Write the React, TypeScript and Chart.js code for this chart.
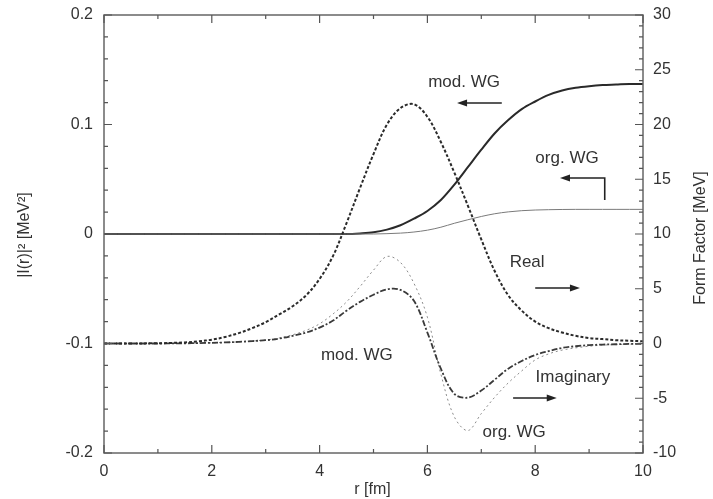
import { useEffect, useRef } from 'react';
import { Chart, registerables } from 'chart.js';

Chart.register(...registerables);

// r [fm]
const rValues = [
  0, 0.25, 0.5, 0.75, 1, 1.25, 1.5, 1.75, 2, 2.25, 2.5, 2.75, 3, 3.25, 3.5, 3.75, 4, 4.25, 4.5, 4.75,
  5, 5.25, 5.5, 5.75, 6, 6.25, 6.5, 6.75, 7, 7.25, 7.5, 7.75, 8, 8.25, 8.5, 8.75, 9, 9.25, 9.5, 9.75, 10,
];

// |I(r)|^2 [MeV^2] (left axis)
const modWG = [
  0, 0, 0, 0, 0, 0, 0, 0, 0, 0, 0, 0, 0, 0, 0, 0, 0, 0, 0, 0.0005,
  0.0015, 0.004, 0.008, 0.014, 0.021, 0.031, 0.045, 0.061, 0.077, 0.092, 0.104, 0.114, 0.121, 0.127, 0.131, 0.1335, 0.135, 0.136, 0.1365, 0.137, 0.137,
];
const orgWG = [
  0, 0, 0, 0, 0, 0, 0, 0, 0, 0, 0, 0, 0, 0, 0, 0, 0, 0, 0, 0,
  0, 0.0003, 0.0008, 0.0018, 0.0035, 0.0062, 0.0098, 0.013, 0.016, 0.0185, 0.0202, 0.0213, 0.0219, 0.0222, 0.0224, 0.0225, 0.0225, 0.0225, 0.0225, 0.0225, 0.0225,
];

// Form factor [MeV] (right axis)
const realFF = [
  0, 0, 0, 0.01, 0.02, 0.05, 0.1, 0.2, 0.35, 0.6, 0.95, 1.4, 1.95, 2.65, 3.4, 4.4, 5.9, 8.0, 11.0, 14.2,
  17.3, 20.0, 21.5, 21.85, 20.7, 18.4, 15.6, 12.6, 9.5, 6.6, 4.4, 3.0, 2.0, 1.4, 1.0, 0.7, 0.5, 0.4, 0.3, 0.25, 0.2,
];
const imagMod = [
  0, 0, 0, 0, 0, 0.01, 0.02, 0.04, 0.06, 0.1, 0.15, 0.22, 0.3, 0.45, 0.7, 1.0, 1.45, 2.1, 3.0, 3.8,
  4.45, 4.95, 4.9, 3.9, 1.0, -2.3, -4.6, -4.95, -4.3, -3.3, -2.3, -1.6, -1.05, -0.7, -0.4, -0.25, -0.15, -0.1, -0.07, -0.04, -0.02,
];
const imagOrg = [
  0, 0, 0, 0, 0, 0.01, 0.02, 0.04, 0.06, 0.1, 0.15, 0.22, 0.32, 0.5, 0.8, 1.2, 1.8, 2.7, 3.8, 5.2,
  6.7, 7.95, 7.4, 5.5, 2.4, -2.8, -6.7, -7.95, -6.4, -4.9, -3.6, -2.5, -1.5, -0.95, -0.6, -0.4, -0.25, -0.15, -0.1, -0.06, -0.03,
];

const xTicks = [0, 2, 4, 6, 8, 10];
const leftTicks = [-0.2, -0.1, 0, 0.1, 0.2];
const rightTicks = [-10, -5, 0, 5, 10, 15, 20, 25, 30];

const FONT = "'Liberation Sans', Arial, Helvetica, sans-serif";
const TEXT = '#333';

// annotations: text in data coords (r, left-axis value)
const labels = [
  { text: 'mod. WG', r: 6.68, v: 0.1388 },
  { text: 'org. WG', r: 8.59, v: 0.0694 },
  { text: 'Real', r: 7.85, v: -0.0256 },
  { text: 'Imaginary', r: 8.7, v: -0.1306 },
  { text: 'mod. WG', r: 4.69, v: -0.1105 },
  { text: 'org. WG', r: 7.61, v: -0.1808 },
];
// arrows: polyline, head at last point
const arrows = [
  [{ r: 7.38, v: 0.1196 }, { r: 6.55, v: 0.1196 }],
  [{ r: 9.29, v: 0.0311 }, { r: 9.29, v: 0.0511 }, { r: 8.46, v: 0.0511 }],
  [{ r: 8.0, v: -0.0493 }, { r: 8.83, v: -0.0493 }],
  [{ r: 7.59, v: -0.1498 }, { r: 8.4, v: -0.1498 }],
];

const pts = (arr: number[]) => rValues.map((r, i) => ({ x: r, y: arr[i] }));

const zeroPad = (s: any) => { s.paddingTop = 0; s.paddingBottom = 0; s.paddingLeft = 0; s.paddingRight = 0; };

const decorPlugin = {
  id: 'decor',
  afterDatasetsDraw(chart: any) {
    const { ctx, chartArea: a, scales } = chart;
    const xs = scales.x, yl = scales.y, yr = scales.y1;
    ctx.save();
    ctx.strokeStyle = '#666';
    ctx.lineWidth = 1.5;
    ctx.strokeRect(a.left, a.top, a.right - a.left, a.bottom - a.top);
    ctx.lineWidth = 1.2;
    ctx.strokeStyle = '#555';
    ctx.beginPath();
    for (let k = 0; k <= 10; k++) {
      const px = xs.getPixelForValue(k);
      const len = k % 2 === 0 ? 8 : 4;
      ctx.moveTo(px, a.bottom); ctx.lineTo(px, a.bottom - len);
      ctx.moveTo(px, a.top); ctx.lineTo(px, a.top + len);
    }
    for (let k = -10; k <= 10; k++) {
      const py = yl.getPixelForValue(k * 0.02);
      const len = k % 5 === 0 ? 8 : 4;
      ctx.moveTo(a.left, py); ctx.lineTo(a.left + len, py);
    }
    for (let k = -10; k <= 30; k++) {
      const py = yr.getPixelForValue(k);
      const len = k % 5 === 0 ? 8 : 4;
      ctx.moveTo(a.right, py); ctx.lineTo(a.right - len, py);
    }
    ctx.stroke();

    // titles
    ctx.fillStyle = TEXT;
    ctx.font = `16px ${FONT}`;
    ctx.textAlign = 'center';
    ctx.textBaseline = 'middle';
    ctx.fillText('r [fm]', (a.left + a.right) / 2 - 1, 490);
    ctx.save();
    ctx.translate(25, (a.top + a.bottom) / 2 + 1);
    ctx.rotate(-Math.PI / 2);
    ctx.fillText('|I(r)|\u00B2 [MeV\u00B2]', 0, 0);
    ctx.restore();
    ctx.save();
    ctx.translate(701, (a.top + a.bottom) / 2 + 4);
    ctx.rotate(-Math.PI / 2);
    ctx.fillText('Form Factor [MeV]', 0, 0);
    ctx.restore();

    // annotations
    ctx.font = `17px ${FONT}`;
    for (const l of labels) {
      ctx.fillText(l.text, xs.getPixelForValue(l.r), yl.getPixelForValue(l.v));
    }
    ctx.strokeStyle = '#222';
    ctx.fillStyle = '#222';
    ctx.lineWidth = 1.6;
    for (const ar of arrows) {
      const p = ar.map((q) => ({ x: xs.getPixelForValue(q.r), y: yl.getPixelForValue(q.v) }));
      const last = p[p.length - 1];
      const prev = p[p.length - 2];
      const ang = Math.atan2(last.y - prev.y, last.x - prev.x);
      const hl = 10, hw = 3.5;
      ctx.beginPath();
      ctx.moveTo(p[0].x, p[0].y);
      for (let i = 1; i < p.length - 1; i++) ctx.lineTo(p[i].x, p[i].y);
      ctx.lineTo(last.x - Math.cos(ang) * hl * 0.8, last.y - Math.sin(ang) * hl * 0.8);
      ctx.stroke();
      ctx.beginPath();
      ctx.moveTo(last.x, last.y);
      ctx.lineTo(last.x - Math.cos(ang) * hl - Math.sin(ang) * hw, last.y - Math.sin(ang) * hl + Math.cos(ang) * hw);
      ctx.lineTo(last.x - Math.cos(ang) * hl + Math.sin(ang) * hw, last.y - Math.sin(ang) * hl - Math.cos(ang) * hw);
      ctx.closePath();
      ctx.fill();
    }
    ctx.restore();
  },
};

export default function App() {
  const ref = useRef<HTMLCanvasElement | null>(null);
  useEffect(() => {
    if (!ref.current) return;
    const tickFont = { family: FONT, size: 16 };
    const chart = new Chart(ref.current, {
      type: 'line',
      data: {
        datasets: [
          { label: 'Real', data: pts(realFF), yAxisID: 'y1', borderColor: '#2a2a2a', borderWidth: 2, borderDash: [3, 2], tension: 0.35 },
          { label: 'Imag mod. WG', data: pts(imagMod), yAxisID: 'y1', borderColor: '#3a3a3a', borderWidth: 1.8, borderDash: [6, 2, 2, 2], tension: 0.35 },
          { label: 'Imag org. WG', data: pts(imagOrg), yAxisID: 'y1', borderColor: '#8a8a8a', borderWidth: 1, borderDash: [2, 3], tension: 0.35 },
          { label: 'org. WG', data: pts(orgWG), yAxisID: 'y', borderColor: '#7a7a7a', borderWidth: 1, cubicInterpolationMode: 'monotone' },
          { label: 'mod. WG', data: pts(modWG), yAxisID: 'y', borderColor: '#2a2a2a', borderWidth: 2, cubicInterpolationMode: 'monotone' },
        ] as any,
      },
      options: {
        animation: false,
        responsive: false,
        maintainAspectRatio: false,
        layout: { padding: { top: 15, left: 0, right: 0, bottom: 0 } },
        elements: { point: { radius: 0 } },
        plugins: { legend: { display: false }, tooltip: { enabled: false } },
        scales: {
          x: {
            type: 'linear',
            position: 'bottom',
            min: 0,
            max: 10,
            afterBuildTicks: (s: any) => { s.ticks = xTicks.map((v) => ({ value: v })); },
            ticks: { font: tickFont, color: TEXT, padding: 9, maxRotation: 0 },
            grid: { display: false, drawTicks: false },
            border: { display: false },
            afterFit: (s: any) => { s.height = 46; zeroPad(s); },
          },
          y: {
            type: 'linear',
            position: 'left',
            min: -0.2,
            max: 0.2,
            afterBuildTicks: (s: any) => { s.ticks = leftTicks.map((v) => ({ value: v })); },
            ticks: {
              font: tickFont,
              color: TEXT,
              padding: 11,
              callback: (v: any) => { const n = Math.round(Number(v) * 10) / 10; return n === 0 ? '0' : String(n); },
            },
            grid: { display: false, drawTicks: false },
            border: { display: false },
            afterFit: (s: any) => { s.width = 104; zeroPad(s); },
          },
          y1: {
            type: 'linear',
            position: 'right',
            min: -10,
            max: 30,
            afterBuildTicks: (s: any) => { s.ticks = rightTicks.map((v) => ({ value: v })); },
            ticks: { font: tickFont, color: TEXT, padding: 10, callback: (v: any) => String(Math.round(Number(v))) },
            grid: { display: false, drawTicks: false },
            border: { display: false },
            afterFit: (s: any) => { s.width = 70; zeroPad(s); },
          },
        },
      } as any,
      plugins: [decorPlugin],
    });
    return () => chart.destroy();
  }, []);
  return (
    <div style={{ position: 'absolute', left: 0, top: 0, width: 713, height: 499, background: '#fff' }}>
      <canvas ref={ref} width={713} height={499} style={{ display: 'block' }} />
    </div>
  );
}
